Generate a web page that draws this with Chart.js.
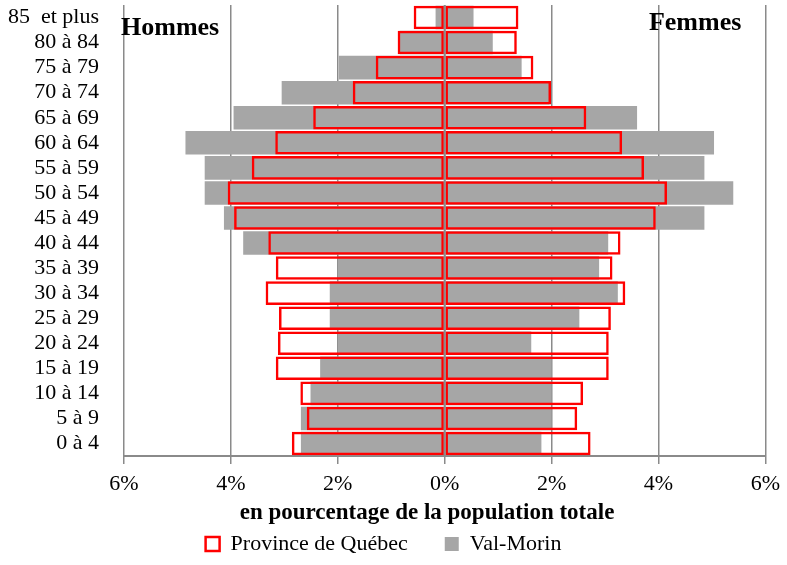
<!DOCTYPE html>
<html>
<head>
<meta charset="utf-8">
<script src="https://cdn.jsdelivr.net/npm/chart.js@4.4.0/dist/chart.umd.min.js"></script>
<style>
  body { margin: 0; background: #fff; }
  canvas { display: block; }
</style>
</head>
<body>
<canvas id="myChart" width="787" height="565"></canvas>
<script>
// groupes d'âge, du haut vers le bas
var ageGroups = ["85  et plus", "80 à 84", "75 à 79", "70 à 74", "65 à 69", "60 à 64", "55 à 59",
    "50 à 54", "45 à 49", "40 à 44", "35 à 39", "30 à 34", "25 à 29", "20 à 24",
    "15 à 19", "10 à 14", "5 à 9", "0 à 4"];

// en % de la population totale (hommes en négatif)
var quebecHommes = [-0.58, -0.88, -1.29, -1.72, -2.46, -3.17, -3.61, -4.06, -3.94, -3.30,
    -3.16, -3.35, -3.10, -3.12, -3.16, -2.70, -2.58, -2.86];
var quebecFemmes = [1.38, 1.35, 1.66, 1.99, 2.65, 3.32, 3.73, 4.16, 3.95, 3.29,
    3.14, 3.38, 3.11, 3.07, 3.07, 2.59, 2.48, 2.73];
var valMorinHommes = [-0.17, -0.84, -1.98, -3.05, -3.95, -4.85, -4.49, -4.49, -4.13, -3.77,
    -2.00, -2.15, -2.15, -2.00, -2.33, -2.51, -2.69, -2.69];
var valMorinFemmes = [0.54, 0.90, 1.44, 1.96, 3.60, 5.04, 4.86, 5.40, 4.86, 3.06,
    2.89, 3.24, 2.52, 1.62, 2.00, 2.00, 2.00, 1.81];

var xTicks = [-6, -4, -2, 0, 2, 4, 6];

const rouge = '#FF0000';
const gris = '#A6A6A6';
const grille = '#8A8A8A';
const serif = '"Liberation Serif", serif';
const legendPad = 37;

// ligne de l'axe à 0, textes Hommes / Femmes et titre de l'axe
const pyramidDecor = {
    id: 'pyramidDecor',
    afterDatasetsDraw(chart) {
        const ctx = chart.ctx;
        const x = chart.scales.x;
        const area = chart.chartArea;
        const x0 = x.getPixelForValue(0);
        ctx.save();
        ctx.strokeStyle = grille;
        ctx.lineWidth = 2;
        ctx.beginPath();
        ctx.moveTo(x0, area.top);
        ctx.lineTo(x0, area.bottom);
        ctx.stroke();

        ctx.fillStyle = '#000';
        ctx.font = 'bold 26px ' + serif;
        ctx.textBaseline = 'middle';
        ctx.textAlign = 'left';
        ctx.fillText('Hommes', area.left - 3, area.top + 23);
        ctx.textAlign = 'right';
        ctx.fillText('Femmes', x.getPixelForValue(5.55), area.top + 18);

        // titre de l'axe horizontal
        ctx.textAlign = 'center';
        ctx.font = 'bold 23px ' + serif;
        ctx.fillText('en pourcentage de la population totale', x.getPixelForValue(-0.33), area.bottom + 57);
        ctx.restore();
    }
};

const ctx = document.getElementById('myChart');

const chart = new Chart(ctx, {
    type: 'bar',
    data: {
        labels: ageGroups,
        datasets: [
            {
                label: 'Province de Québec',
                data: quebecHommes,
                backgroundColor: 'rgba(255,255,255,0)',
                borderColor: rouge,
                borderWidth: 2.5,
                borderSkipped: false,
                order: 0
            },
            {
                label: 'Val-Morin',
                data: valMorinHommes,
                backgroundColor: gris,
                borderWidth: 0,
                order: 1
            },
            {
                label: 'Province de Québec (F)',
                data: quebecFemmes,
                backgroundColor: 'rgba(255,255,255,0)',
                borderColor: rouge,
                borderWidth: 2.5,
                borderSkipped: false,
                order: 0
            },
            {
                label: 'Val-Morin (F)',
                data: valMorinFemmes,
                backgroundColor: gris,
                borderWidth: 0,
                order: 1
            }
        ]
    },
    options: {
        indexAxis: 'y',
        responsive: false,
        animation: false,
        devicePixelRatio: 1,
        layout: { padding: { top: 5, right: 20, bottom: 0, left: 0 } },
        datasets: {
            bar: { grouped: false, categoryPercentage: 1, barPercentage: 0.94 }
        },
        scales: {
            x: {
                min: -6,
                max: 6,
                afterBuildTicks: (scale) => { scale.ticks = xTicks.map(v => ({ value: v })); },
                afterFit: (scale) => { scale.height = 77 - legendPad; },
                ticks: {
                    callback: (v) => Math.abs(v) + '%',
                    color: '#000',
                    padding: 7,
                    autoSkip: false,
                    maxRotation: 0,
                    font: { family: serif, size: 22 }
                },
                grid: { color: grille, lineWidth: 1.5, tickLength: 8, tickColor: grille },
                border: { color: grille, width: 2 }
            },
            y: {
                afterFit: (scale) => {
                    scale.width = 124;
                    scale.paddingTop = 0;
                    scale.paddingBottom = 0;
                },
                grid: { display: false },
                border: { display: false },
                ticks: {
                    color: '#000',
                    padding: 17,
                    autoSkip: false,
                    font: { family: serif, size: 22 }
                }
            }
        },
        plugins: {
            tooltip: { enabled: false },
            legend: {
                position: 'bottom',
                labels: {
                    filter: (item) => item.datasetIndex < 2,
                    color: '#000',
                    boxWidth: 14,
                    boxHeight: 14,
                    padding: legendPad,
                    font: { family: serif, size: 22 }
                }
            }
        }
    },
    plugins: [pyramidDecor]
});
</script>
</body>
</html>
